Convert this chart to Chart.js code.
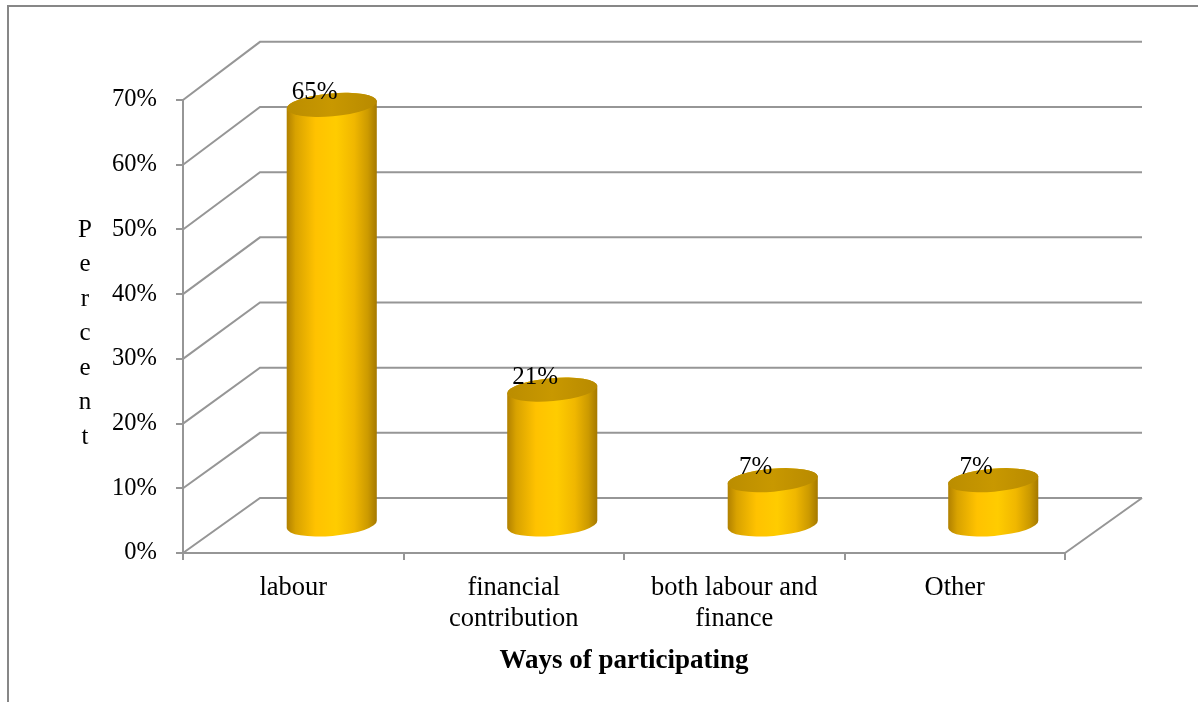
<!DOCTYPE html>
<html>
<head>
<meta charset="utf-8">
<title>Ways of participating</title>
<script src="https://cdn.jsdelivr.net/npm/chart.js@4.4.1/dist/chart.umd.min.js"></script>
<style>
  html, body { margin: 0; padding: 0; background: #fff; }
  canvas { display: block; }
</style>
</head>
<body>
<canvas id="chart" width="1198" height="702"></canvas>
<script>
const categories = ["labour", ["financial", "contribution"], ["both labour and", "finance"], "Other"];
const shares = [65, 21, 7, 7];
const yTicks = [0, 10, 20, 30, 40, 50, 60, 70];
const yTitle = "Percent";
const xTitle = "Ways of participating";

const SERIF = "'Times New Roman', 'Liberation Serif', serif";
const GRID = "#969696";
// offset of the back wall from the front plane
const DEPTH_X = 77;
const DEPTH_Y = 55;
const RY = 11.5;      // half height of the cylinder caps
const TILT = -0.085;  // caps lean a little, right side higher

function backY(chart, v) {
  const a = chart.chartArea;
  const f = chart.scales.y.getPixelForValue(v);
  return f - DEPTH_Y - (a.bottom - f) * 0.007;
}

function drawCylinder(ctx, cx, top, bottom, rx) {
  const body = ctx.createLinearGradient(cx - rx, 0, cx + rx, 0);
  body.addColorStop(0, "#b08000");
  body.addColorStop(0.1, "#d8a200");
  body.addColorStop(0.32, "#ffc200");
  body.addColorStop(0.55, "#ffcc00");
  body.addColorStop(0.75, "#f0b700");
  body.addColorStop(0.9, "#cc9a00");
  body.addColorStop(1, "#a47800");

  const c = Math.cos(TILT), s = Math.sin(TILT);
  ctx.beginPath();
  ctx.ellipse(cx, bottom, rx, RY, TILT, 0, Math.PI);
  ctx.lineTo(cx - rx * c, top - rx * s);
  ctx.ellipse(cx, top, rx, RY, TILT, Math.PI, Math.PI * 2);
  ctx.closePath();
  ctx.fillStyle = body;
  ctx.fill();

  const cap = ctx.createLinearGradient(cx - rx, 0, cx + rx, 0);
  cap.addColorStop(0, "#bb8d00");
  cap.addColorStop(0.5, "#c89800");
  cap.addColorStop(1, "#b88a00");
  ctx.beginPath();
  ctx.ellipse(cx, top, rx, RY, TILT, 0, Math.PI * 2);
  ctx.fillStyle = cap;
  ctx.fill();
}

const box3d = {
  id: "box3d",
  beforeDraw(chart) {
    const ctx = chart.ctx;
    ctx.save();
    ctx.strokeStyle = "#878787";
    ctx.lineWidth = 2;
    ctx.beginPath();
    ctx.moveTo(8, 702);
    ctx.lineTo(8, 6);
    ctx.lineTo(1198, 6);
    ctx.stroke();
    ctx.restore();
  },
  beforeDatasetsDraw(chart) {
    const {ctx, chartArea: a, scales: {y}} = chart;
    ctx.save();
    ctx.strokeStyle = GRID;
    ctx.lineWidth = 2;
    // side wall diagonals and back wall lines
    yTicks.forEach(v => {
      const f = y.getPixelForValue(v);
      const b = backY(chart, v);
      ctx.beginPath();
      ctx.moveTo(a.left, f);
      ctx.lineTo(a.left + DEPTH_X, b);
      ctx.lineTo(a.right + DEPTH_X, b);
      ctx.stroke();
    });
    // right edge of the floor
    ctx.beginPath();
    ctx.moveTo(a.right, a.bottom);
    ctx.lineTo(a.right + DEPTH_X, backY(chart, 0));
    ctx.stroke();
    ctx.restore();
  },
  afterDatasetsDraw(chart) {
    const ctx = chart.ctx;
    const meta = chart.getDatasetMeta(0);
    ctx.save();
    meta.data.forEach((bar, i) => {
      const cx = bar.x + DEPTH_X / 2;
      const top = bar.y - DEPTH_Y / 2;
      const bottom = bar.base - DEPTH_Y / 2;
      drawCylinder(ctx, cx, top, bottom, bar.width / 2);

      ctx.fillStyle = "#000";
      ctx.font = "25px " + SERIF;
      ctx.textAlign = "center";
      ctx.textBaseline = "alphabetic";
      ctx.fillText(shares[i] + "%", cx - 17, top - 6);
    });

    // stacked letters of the y axis title
    ctx.font = "25px " + SERIF;
    ctx.textAlign = "center";
    ctx.textBaseline = "middle";
    yTitle.split("").forEach((ch, k) => {
      ctx.fillText(ch, 85, 230 + k * 34.5);
    });
    ctx.restore();
  }
};

new Chart(document.getElementById("chart"), {
  type: "bar",
  data: {
    labels: categories,
    datasets: [{
      data: shares,
      backgroundColor: "rgba(0,0,0,0)",
      borderWidth: 0,
      barPercentage: 0.41,
      categoryPercentage: 1
    }]
  },
  options: {
    responsive: false,
    animation: false,
    events: [],
    layout: { padding: { left: 0, top: 100, right: 133, bottom: 0 } },
    plugins: {
      legend: { display: false },
      tooltip: { enabled: false }
    },
    scales: {
      x: {
        afterFit: (s) => { s.height = 149; },
        grid: { offset: true, drawOnChartArea: false, drawTicks: true, tickLength: 7, color: GRID, lineWidth: 2 },
        border: { display: true, color: GRID, width: 2 },
        ticks: {
          color: "#000",
          font: { family: SERIF, size: 26.5, lineHeight: 1.17 },
          padding: 13,
          maxRotation: 0,
          autoSkip: false
        },
        title: {
          display: true,
          text: xTitle,
          color: "#000",
          font: { family: SERIF, size: 27, weight: "bold", lineHeight: 1.2 },
          padding: { top: 0, bottom: 25 }
        }
      },
      y: {
        min: 0,
        max: 70,
        afterFit: (s) => { s.width = 183; },
        grid: { drawOnChartArea: false, drawTicks: true, tickLength: 7, color: GRID, lineWidth: 2 },
        border: { display: true, color: GRID, width: 2 },
        ticks: {
          stepSize: 10,
          color: "#000",
          font: { family: SERIF, size: 24.5 },
          padding: 19,
          callback: (v) => v + "%"
        }
      }
    }
  },
  plugins: [box3d]
});
</script>
</body>
</html>
